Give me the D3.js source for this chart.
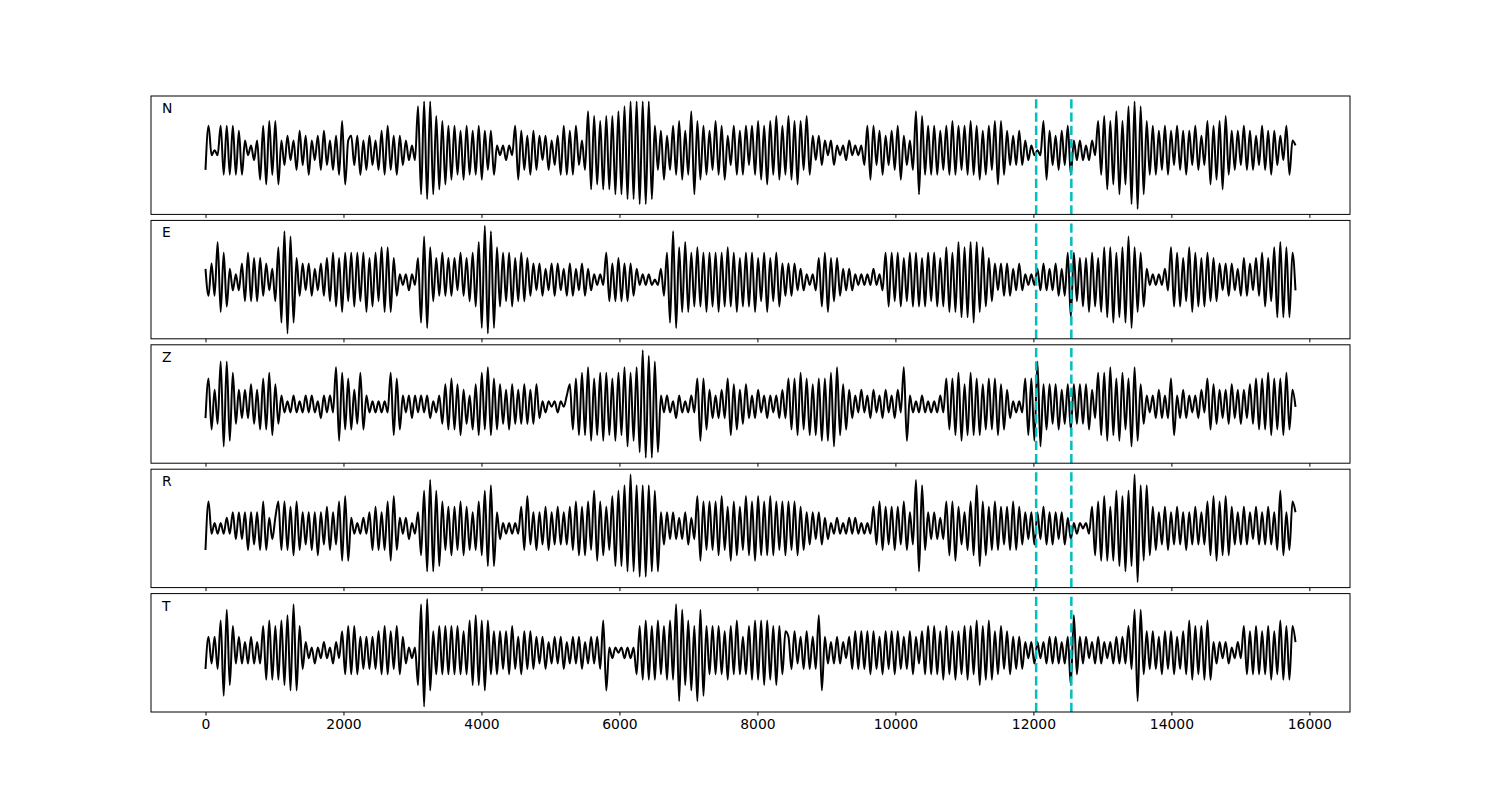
<!DOCTYPE html>
<html>
<head>
<meta charset="utf-8">
<script src="https://cdn.jsdelivr.net/npm/d3@7"></script>
<style>
  body { margin: 0; background: #fff; }
  text { font-family: "DejaVu Sans", sans-serif; }
</style>
</head>
<body>
<div id="chart"></div>
<script>
// channel names, one panel each
const channels = ["N", "E", "Z", "R", "T"]

// last sample index of the record and the two picked times (dashed lines)
const tEnd = 15799
const picks = [12040, 12550]
const xTicks = [0, 2000, 4000, 6000, 8000, 10000, 12000, 14000, 16000]

// successive peaks / troughs of each trace
const traceN = [
  -4, 5, -1, 0, -1, 5, -5, 5, -5, 5, -5, 4, -5, 2, -1, 1, -2, 2, -6, 5, -7, 6, -5, 6,
  -7, 2, -3, 3, -2, 2, -4, 4, -3, 3, -5, 2, -2, 3, -4, 4, -3, 2, -4, 3, -5, 6, -7, 2,
  3, -3, 3, -5, 2, -4, 3, -3, 2, -4, 4, -5, 5, -4, 3, -5, 3, -3, 2, -2, 1, -2, 9, -9,
  10, -10, 10, -9, 7, -8, 6, -7, 5, -6, 5, -5, 4, -6, 5, -5, 4, -5, 5, -6, 4, -4, 4, -5,
  1, -1, 1, -2, 1, -1, 5, -6, 4, -4, 3, -5, 4, -4, 3, -2, 3, -4, 2, -3, 3, -5, 5, -5,
  4, -5, 5, -3, 2, -4, 8, -8, 7, -7, 6, -8, 7, -8, 7, -9, 8, -9, 9, -10, 10, -10, 10, -11,
  10, -11, 10, -10, 5, -4, 4, -6, 3, -4, 5, -5, 6, -6, 4, -5, 8, -9, 6, -6, 5, -5, 4, -4,
  6, -5, 5, -6, 3, -3, 5, -5, 4, -5, 5, -3, 5, -5, 6, -6, 5, -7, 6, -5, 7, -6, 5, -5,
  7, -6, 6, -7, 6, -4, 7, -5, 3, -2, 3, -3, 2, -1, 2, -3, 1, -1, 1, -2, 2, -1, 1, -1,
  1, -3, 5, -6, 5, -3, 4, -5, 3, -3, 4, -4, 5, -6, 3, -3, 2, -4, 8, -9, 7, -5, 5, -5,
  5, -5, 4, -4, 5, -5, 6, -5, 5, -4, 5, -5, 6, -5, 5, -6, 4, -5, 5, -4, 6, -7, 6, -5,
  4, -3, 3, -3, 4, -3, 2, -2, 1, -1, 0, -1, 6, -6, 4, -3, 3, -4, 4, -3, 5, -5, 2, -2,
  2, -2, 1, -2, 2, -1, 6, -5, 7, -8, 6, -7, 8, -9, 6, -7, 9, -11, 10, -12, 9, -9, 6, -5,
  5, -5, 4, -4, 5, -5, 4, -3, 5, -4, 4, -5, 4, -3, 5, -4, 3, -3, 6, -7, 5, -6, 6, -8,
  7, -5, 4, -4, 4, -3, 5, -4, 4, -4, 3, -3, 5, -4, 4, -5, 4, -3, 3, -2, 5, -5, 2, 1
]
const traceE = [
  2, -3, 3, -3, 7, -6, 5, -5, 2, -2, 1, -2, 3, -4, 5, -4, 4, -4, 4, -3, 3, -2, 2, -4,
  6, -8, 9, -10, 8, -8, 4, -3, 3, -2, 3, -3, 2, -2, 3, -3, 4, -4, 5, -5, 4, -6, 5, -4,
  5, -5, 5, -4, 5, -6, 4, -5, 5, -4, 6, -6, 6, -6, 4, -3, 1, -1, 1, -2, 1, -1, 4, -8,
  8, -9, 6, -4, 4, -3, 5, -3, 4, -3, 4, -2, 5, -3, 4, -4, 5, -5, 7, -9, 10, -10, 9, -9,
  6, -5, 5, -4, 5, -5, 4, -4, 5, -4, 4, -3, 3, -2, 3, -3, 2, -2, 3, -3, 3, -2, 2, -3,
  3, -3, 2, -2, 3, -3, 2, -2, 1, -1, 1, -1, 5, -4, 3, -4, 4, -4, 3, -4, 3, -3, 2, -1,
  1, -1, 1, -1, 0, -1, 2, -3, 5, -8, 9, -9, 6, -6, 7, -6, 5, -5, 6, -5, 5, -6, 5, -5,
  5, -6, 5, -5, 6, -5, 5, -6, 4, -5, 5, -5, 5, -6, 4, -4, 5, -6, 4, -4, 5, -5, 3, -3,
  3, -3, 3, -2, 2, -2, 1, -1, 1, -2, 4, -5, 5, -6, 4, -4, 4, -3, 2, -2, 2, -2, 1, -1,
  1, -1, 1, -1, 2, -1, 1, -2, 5, -5, 5, -4, 5, -5, 4, -4, 5, -5, 5, -5, 4, -5, 5, -4,
  5, -5, 4, -5, 6, -6, 5, -6, 7, -7, 6, -7, 7, -8, 7, -6, 6, -5, 4, -4, 3, -2, 3, -3,
  3, -3, 2, -2, 3, -2, 1, -1, 1, -1, 2, -2, 3, -2, 2, -2, 3, -3, 2, -3, 5, -7, 5, -4,
  4, -5, 4, -6, 5, -5, 4, -6, 6, -7, 6, -8, 5, -7, 6, -8, 8, -9, 6, -6, 5, -5, 2, -1,
  1, -1, 1, -1, 2, -2, 6, -5, 5, -5, 4, -4, 6, -6, 5, -5, 4, -5, 5, -4, 4, -4, 3, -2,
  3, -3, 3, -2, 2, -3, 4, -3, 3, -2, 4, -3, 5, -5, 4, -4, 6, -7, 7, -7, 6, -7, 5, -2
]
const traceZ = [
  -2, 5, -4, 3, -3, 8, -7, 8, -6, 6, -3, 3, -2, 3, -2, 4, -3, 3, -4, 5, -4, 6, -5, 4,
  -3, 2, -1, 1, -1, 2, -1, 1, -1, 2, -1, 2, -1, 1, -2, 2, -1, 2, -1, 7, -6, 6, -4, 5,
  -4, 3, -3, 6, -4, 2, -1, 1, -1, 1, -1, 1, -1, 6, -5, 5, -4, 2, -1, 2, -2, 2, -1, 2,
  -1, 2, -2, 1, -1, 2, -3, 4, -4, 5, -4, 4, -5, 3, -3, 2, -4, 4, -5, 6, -4, 7, -5, 5,
  -4, 4, -3, 3, -4, 4, -3, 3, -3, 4, -3, 3, -3, 4, -2, 1, -1, 1, 0, 1, -1, 1, 0, 2,
  4, -4, 5, -5, 6, -5, 7, -6, 5, -5, 6, -6, 6, -5, 5, -6, 6, -5, 7, -7, 6, -6, 7, -8,
  10, -9, 9, -9, 8, -8, 2, -1, 2, -1, 1, -2, 2, -1, 1, -1, 2, -1, 5, -6, 5, -4, 3, -2,
  2, -2, 3, -2, 5, -5, 4, -4, 3, -3, 4, -2, 2, -2, 3, -1, 2, -2, 2, -1, 2, -2, 3, -2,
  5, -4, 5, -5, 6, -4, 5, -5, 4, -5, 5, -6, 5, -6, 6, -7, 7, -5, 4, -4, 3, -2, 2, -1,
  3, -1, 2, -2, 3, -1, 2, -2, 3, -1, 2, -2, 3, -1, 7, -6, 2, -1, 1, -1, 2, -1, 1, -1,
  1, -1, 2, -1, 5, -4, 5, -5, 6, -6, 4, -5, 6, -5, 5, -5, 4, -4, 5, -4, 5, -5, 4, -4,
  3, -2, 1, -1, 1, -1, 5, -5, 5, -6, 8, -7, 4, -4, 4, -3, 4, -4, 3, -3, 4, -4, 4, -3,
  4, -3, 4, -4, 3, -2, 6, -5, 6, -6, 7, -5, 5, -6, 6, -4, 5, -7, 7, -6, 4, -3, 2, -1,
  2, -2, 3, -2, 2, -2, 5, -5, 2, -2, 3, -2, 2, -1, 2, -2, 3, -1, 5, -4, 4, -3, 3, -2,
  3, -3, 4, -2, 3, -3, 3, -2, 4, -3, 5, -4, 5, -4, 6, -5, 5, -4, 5, -5, 6, -4, 3, 0
]
const traceR = [
  -4, 5, -1, 1, -1, 1, -1, 2, -1, 3, -2, 3, -2, 3, -4, 3, -3, 3, -4, 5, -4, 2, -2, 2,
  5, -4, 5, -4, 4, -5, 5, -4, 3, -3, 3, -4, 3, -5, 3, -3, 4, -4, 3, -3, 5, -6, 6, -6,
  2, -1, 1, -1, 2, -1, 3, -4, 4, -4, 3, -4, 5, -6, 6, -4, 2, -1, 2, -2, 1, -1, 3, -5,
  7, -8, 9, -8, 7, -7, 5, -4, 4, -5, 4, -4, 5, -5, 4, -4, 3, -4, 5, -5, 7, -7, 8, -7,
  3, -2, 1, -1, 1, -1, 1, -1, 4, -4, 6, -3, 3, -4, 3, -3, 4, -4, 3, -3, 4, -3, 3, -3,
  4, -4, 5, -5, 4, -5, 5, -4, 7, -6, 5, -5, 4, -4, 6, -7, 7, -7, 8, -8, 10, -8, 8, -9,
  8, -9, 8, -8, 7, -8, 3, -3, 3, -2, 3, -2, 2, -2, 3, -3, 2, -2, 6, -6, 5, -4, 5, -4,
  5, -5, 6, -4, 4, -6, 5, -5, 4, -4, 6, -5, 5, -6, 6, -5, 5, -5, 6, -5, 5, -4, 5, -5,
  5, -4, 5, -5, 4, -4, 3, -3, 3, -2, 3, -3, 2, -2, 1, -1, 2, -1, 1, -1, 2, -1, 2, -1,
  1, -1, 1, -1, 4, -3, 5, -4, 4, -3, 4, -4, 4, -3, 5, -4, 3, -3, 9, -8, 8, -4, 3, -2,
  3, -2, 2, -2, 5, -5, 5, -6, 4, -3, 3, -4, 5, -5, 8, -7, 5, -5, 4, -4, 5, -4, 4, -3,
  4, -4, 5, -4, 4, -3, 3, -2, 3, -3, 3, -2, 4, -3, 3, -3, 3, -2, 3, -3, 2, -2, 1, -1,
  1, 0, 1, -1, 4, -5, 5, -6, 6, -6, 4, -6, 7, -7, 6, -8, 7, -7, 10, -10, 8, -6, 8, -5,
  4, -4, 3, -3, 4, -4, 3, -3, 4, -3, 3, -4, 3, -3, 4, -3, 3, -3, 5, -5, 6, -6, 5, -5,
  6, -5, 4, -3, 3, -3, 4, -3, 3, -2, 4, -3, 3, -3, 4, -3, 3, -4, 7, -5, 3, -4, 5, 3
]
const traceT = [
  -3, 3, -2, 3, -3, 6, -8, 8, -6, 5, -2, 3, -2, 2, -2, 3, -2, 2, -2, 5, -5, 6, -5, 5,
  -5, 6, -6, 7, -7, 9, -7, 5, -3, 2, -1, 1, -2, 1, -1, 2, -1, 1, -2, 2, -1, 4, -4, 5,
  -4, 5, -4, 3, -3, 3, -3, 3, -3, 4, -4, 5, -4, 4, -3, 5, -4, 3, -2, 1, -1, 1, -6, 9,
  -10, 10, -7, 4, -4, 5, -4, 5, -4, 5, -4, 5, -4, 4, -4, 6, -6, 7, -6, 6, -7, 6, -4, 4,
  -4, 4, -3, 4, -4, 5, -3, 3, -4, 4, -3, 4, -3, 3, -2, 3, -3, 2, -2, 3, -2, 3, -3, 2,
  -2, 3, -2, 3, -3, 2, -2, 3, -2, 3, -3, 6, -7, 1, -1, 1, 0, 1, -1, 1, -1, 1, -4, 5,
  -5, 6, -5, 5, -5, 6, -4, 5, -5, 6, -5, 9, -9, 8, -6, 6, -7, 5, -9, 8, -8, 5, -4, 5,
  -4, 5, -4, 4, -5, 5, -4, 6, -4, 3, -4, 5, -5, 6, -5, 6, -6, 6, -5, 5, -6, 5, -4, 4,
  3, -3, 4, -2, 3, -3, 4, -3, 3, -3, 7, -7, 3, -2, 2, -2, 3, -2, 2, -1, 3, -3, 4, -3,
  4, -3, 4, -4, 4, -3, 3, -4, 4, -3, 4, -4, 4, -3, 3, -3, 4, -4, 3, -2, 4, -4, 5, -4,
  5, -4, 4, -5, 5, -4, 4, -5, 4, -4, 5, -5, 5, -4, 6, -6, 5, -5, 6, -5, 4, -4, 5, -3,
  4, -4, 3, -3, 3, -3, 2, -1, 2, -2, 2, -1, 2, -2, 3, -2, 3, -2, 2, -2, 3, -6, 7, -4,
  3, -2, 3, -1, 2, -2, 3, -2, 2, -1, 2, -2, 3, -2, 3, -2, 5, -3, 8, -9, 8, -4, 4, -3,
  4, -3, 3, -4, 4, -3, 4, -4, 3, -3, 4, -4, 6, -5, 5, -4, 5, -5, 6, -5, 2, -2, 2, -1,
  2, -2, 1, -1, 2, -1, 5, -4, 4, -4, 5, -4, 4, -4, 5, -5, 4, -4, 6, -5, 5, -5, 5, 2
]
const traces = [traceN, traceE, traceZ, traceR, traceT]

const width = 1500
const height = 800
const plotLeft = 151, plotRight = 1350, plotTop = 96
const panelH = 118.4, panelGap = 6

const svg = d3.select("#chart").append("svg")
  .attr("width", width)
  .attr("height", height)

// shared x scale, padded 5% each side like matplotlib
const pad = tEnd * 0.05
const x = d3.scaleLinear().domain([-pad, tEnd + pad]).range([plotLeft, plotRight])

channels.forEach((name, i) => {
  const data = traces[i]
  const y0 = plotTop + i * (panelH + panelGap)
  const y1 = y0 + panelH
  const ext = d3.extent(data)
  const span = ext[1] - ext[0]
  const y = d3.scaleLinear()
    .domain([ext[0] - span * 0.05, ext[1] + span * 0.05])
    .range([y1, y0])
  const n = data.length

  const g = svg.append("g")

  g.append("clipPath").attr("id", "clip" + i)
    .append("rect")
    .attr("x", plotLeft).attr("y", y0)
    .attr("width", plotRight - plotLeft).attr("height", panelH)

  const line = d3.line()
    .x((d, j) => x(j * tEnd / (n - 1)))
    .y(d => y(d))
    .curve(d3.curveMonotoneX)

  g.append("path")
    .datum(data)
    .attr("clip-path", `url(#clip${i})`)
    .attr("fill", "none")
    .attr("stroke", "#000")
    .attr("stroke-width", 2)
    .attr("stroke-linejoin", "round")
    .attr("d", line)

  // picked phases
  g.selectAll("line.pick")
    .data(picks)
    .enter()
    .append("line")
    .attr("class", "pick")
    .attr("x1", d => x(d)).attr("x2", d => x(d))
    .attr("y1", y1).attr("y2", y0)
    .attr("stroke", "#00bfbf")
    .attr("stroke-width", 2.5)
    .attr("stroke-dasharray", "9.25,4")

  // frame
  g.append("rect")
    .attr("x", plotLeft).attr("y", y0)
    .attr("width", plotRight - plotLeft).attr("height", panelH)
    .attr("fill", "none")
    .attr("stroke", "#000")
    .attr("stroke-width", 1)

  // x axis, labels only on the bottom panel
  const axis = d3.axisBottom(x)
    .tickValues(xTicks)
    .tickSize(3.5)
    .tickPadding(3.5)
    .tickFormat(d3.format("d"))
  if (i < channels.length - 1) axis.tickFormat("")
  const ax = g.append("g")
    .attr("transform", `translate(0,${y1})`)
    .call(axis)
  ax.select(".domain").remove()
  ax.selectAll(".tick line").attr("stroke", "#000").attr("stroke-width", 1)
  ax.selectAll(".tick text")
    .attr("fill", "#000")
    .style("font-size", "13.9px")
    .style("font-family", "DejaVu Sans, sans-serif")

  // channel label
  g.append("text")
    .attr("x", plotLeft + 11)
    .attr("y", y0 + 17)
    .style("font-size", "13.9px")
    .attr("fill", "#000")
    .text(name)
})
</script>
</body>
</html>
